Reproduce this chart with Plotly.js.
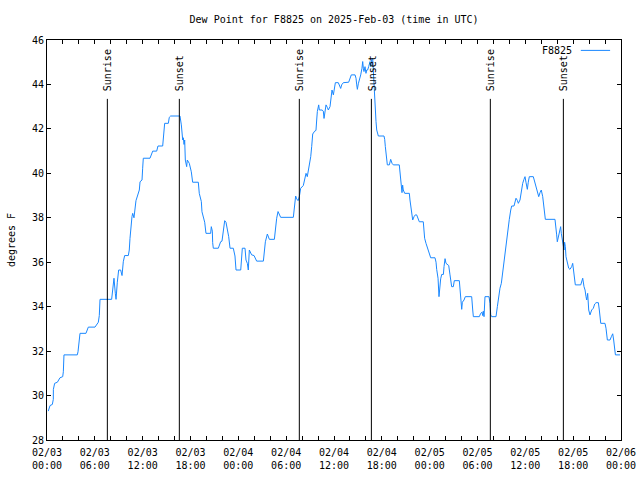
<!DOCTYPE html>
<html>
<head>
<meta charset="utf-8">
<script src="https://cdn.plot.ly/plotly-3.0.1.min.js"></script>
<style>html,body{margin:0;padding:0;background:#fff;}#chart{width:640px;height:480px;}</style>
</head>
<body>
<div id="chart"></div>
<script>
// Hours after 2025-02-03 00:00 UTC
const hoursUTC = [
  0.16,0.38,0.67,0.79,0.80,0.96,1.30,1.63,1.97,2.05,
  2.13,3.80,3.89,4.05,4.14,4.89,5.06,5.18,6.02,6.23,
  6.44,6.56,6.65,8.11,8.24,8.40,8.57,8.66,8.82,8.99,
  9.24,9.41,9.57,9.74,10.20,10.32,10.41,10.49,10.66,10.75,
  10.91,11.16,11.33,11.58,11.67,11.92,12.00,12.08,12.92,13.09,
  13.26,13.76,13.92,14.51,14.59,14.76,15.22,15.34,15.51,16.68,
  16.85,17.02,17.10,17.19,17.27,17.35,17.52,17.60,17.85,18.10,
  18.27,18.98,19.10,19.36,19.44,19.61,19.78,19.94,20.53,20.61,
  20.74,20.78,20.86,21.49,21.62,21.78,21.95,22.12,22.29,22.45,
  22.62,22.79,22.96,23.37,23.58,23.71,24.30,24.42,24.50,24.84,
  24.96,25.13,25.25,25.38,25.55,25.67,25.97,26.22,26.30,27.14,
  27.22,27.39,27.64,27.89,28.52,28.64,28.81,28.98,29.14,29.31,
  30.90,31.02,31.19,31.32,31.49,31.65,31.82,32.15,32.36,32.49,
  32.65,32.82,32.90,33.08,33.20,33.33,33.58,33.74,33.83,33.91,
  34.08,34.16,34.50,34.66,34.75,34.87,35.00,35.16,35.29,35.50,
  35.63,35.75,35.92,36.04,36.17,36.54,36.67,36.84,36.96,37.17,
  37.84,38.01,38.17,38.64,38.76,38.85,38.93,39.05,39.18,39.35,
  39.51,39.60,39.68,39.76,39.89,40.01,40.10,40.22,40.35,40.52,
  40.60,40.73,40.85,40.93,41.02,41.14,41.27,41.36,41.56,42.27,
  42.36,42.44,42.61,42.69,42.94,43.11,43.28,43.44,44.19,44.28,
  44.45,44.53,44.61,44.69,44.87,45.45,45.53,45.70,45.87,46.04,
  46.20,46.37,46.54,46.70,47.20,47.37,47.54,47.79,47.96,48.13,
  48.67,48.80,48.88,49.05,49.17,49.30,49.38,49.51,49.72,49.80,
  49.93,50.05,50.22,50.39,50.55,50.76,50.97,51.09,51.72,51.81,
  51.89,52.02,52.10,52.31,52.47,53.27,53.40,53.48,54.23,54.40,
  54.57,54.65,54.73,54.82,54.94,55.44,55.57,55.66,55.78,56.32,
  56.49,56.66,56.82,56.99,57.16,57.32,57.49,57.66,57.83,57.99,
  58.17,58.29,58.58,58.71,58.83,59.00,59.12,59.33,59.46,59.54,
  59.67,59.83,59.96,60.08,60.25,60.37,60.50,61.00,61.18,61.34,
  61.50,61.68,61.84,62.00,62.18,62.26,62.43,62.51,63.72,63.85,
  63.93,64.01,64.14,64.26,64.43,64.51,64.68,64.85,64.93,65.02,
  65.10,65.27,65.44,65.60,65.81,65.94,66.11,66.27,66.95,67.11,
  67.20,67.36,67.49,67.61,67.70,67.82,67.95,68.11,68.32,68.53,
  68.70,68.87,69.16,69.28,69.46,69.99,70.12,70.29,70.62,70.79,
  70.96,71.08,71.21,71.30,71.88
];

const dewPointF = [
  29.3,29.55,29.6,29.83,30.28,30.55,30.6,30.8,30.85,31.07,
  31.83,31.83,31.97,32.5,32.8,32.8,32.95,33.08,33.08,33.2,
  33.3,33.6,34.33,34.33,34.9,35.28,34.6,34.33,35.1,35.65,
  35.65,35.4,36.02,36.3,36.3,36.55,37.07,37.52,38.05,38.2,
  38.0,38.77,39.0,39.25,39.62,39.7,40.23,40.68,40.68,40.83,
  41.0,41.0,41.23,41.23,41.5,42.25,42.25,42.52,42.58,42.58,
  42.18,41.5,41.6,41.3,41.5,40.6,40.3,40.6,40.45,40.07,
  39.6,39.6,39.1,38.73,38.27,38.05,37.8,37.3,37.3,37.6,
  37.4,36.88,36.63,36.63,36.8,36.92,36.95,37.52,37.87,37.8,
  37.5,37.15,36.63,36.63,36.28,35.65,35.65,36.25,36.63,36.63,
  36.1,35.95,35.65,36.55,36.45,36.33,36.3,36.1,36.05,36.05,
  36.47,36.92,37.27,37.03,37.03,37.6,37.98,38.28,38.15,38.02,
  38.02,38.58,38.98,38.85,38.77,38.95,39.33,39.45,39.85,40.0,
  39.85,40.18,40.48,40.75,41.2,41.77,41.9,41.93,42.4,42.78,
  43.08,42.85,42.85,42.8,42.47,42.82,43.08,42.97,42.85,43.0,
  43.45,43.75,43.53,43.75,44.08,44.08,43.98,43.82,43.98,44.08,
  44.1,44.25,44.43,44.43,44.28,43.98,43.78,44.03,44.18,44.43,
  44.73,45.03,44.73,44.58,44.8,44.5,44.65,44.65,44.8,45.03,
  44.8,45.13,45.18,44.65,43.45,42.7,42.33,41.95,41.68,41.68,
  41.53,41.2,40.6,40.38,40.38,40.63,40.45,40.38,40.38,40.08,
  39.4,39.13,39.47,39.25,39.1,39.1,38.8,38.35,37.9,38.05,
  38.13,38.13,37.98,37.82,37.82,37.08,36.85,36.55,36.45,36.2,
  36.2,36.0,35.68,35.28,34.45,35.1,35.25,35.45,35.45,35.8,
  36.16,35.95,35.88,35.85,35.43,34.9,34.9,35.17,35.17,34.8,
  34.3,33.88,34.2,34.3,34.45,34.45,33.85,33.55,33.55,33.7,
  33.75,33.6,33.8,33.55,34.45,34.45,34.15,33.63,33.55,33.55,
  34.0,34.53,34.83,35.05,35.57,35.95,36.47,37.0,37.37,37.93,
  38.35,38.53,38.53,38.8,38.88,38.78,38.65,38.8,39.1,39.4,
  39.55,39.73,39.85,39.6,39.28,39.6,39.85,39.85,39.63,39.4,
  39.18,38.95,39.13,39.25,38.95,38.65,38.2,37.93,37.93,37.6,
  37.23,36.92,37.15,37.45,37.6,37.3,36.85,36.55,36.9,36.7,
  36.25,35.95,35.73,35.68,35.8,35.95,35.28,34.98,34.98,35.23,
  35.28,34.9,34.75,34.45,34.3,34.6,33.85,33.63,33.85,33.93,
  34.12,34.18,34.18,33.85,33.25,33.25,33.03,32.5,32.5,32.65,
  32.78,32.5,32.05,31.83,31.83
];

const sunEventHours  = [7.57, 16.60, 31.65, 40.69, 55.61, 64.77];
const sunEventLabels = ["Sunrise", "Sunset", "Sunrise", "Sunset", "Sunrise", "Sunset"];

const stationName = "F8825";
const chartTitle = "Dew Point for F8825 on 2025-Feb-03 (time in UTC)";
const yAxisTitle = "degrees F";

const startMs = Date.UTC(2025, 1, 3, 0, 0, 0);
function toDateStr(h) {
  const d = new Date(startMs + h * 3600000);
  return d.toISOString().slice(0, 19).replace('T', ' ');
}

const FONT = "DejaVu Sans Mono, monospace";
const x = hoursUTC.map(toDateStr);

const trace = {
  x: x, y: dewPointF, type: 'scatter', mode: 'lines', name: stationName,
  line: {color: '#1a88ff', width: 1}, showlegend: false, hoverinfo: 'skip'
};

const LINE_TOP = 43.35;
const LABEL_BASE = 43.62;
const shapes = sunEventHours.map(h => ({
  type: 'line', xref: 'x', yref: 'y', x0: toDateStr(h), x1: toDateStr(h), y0: 28, y1: LINE_TOP,
  line: {color: '#000', width: 1}
}));
const annotations = sunEventHours.map((h, i) => ({
  xref: 'x', yref: 'y', x: toDateStr(h), y: LABEL_BASE, text: sunEventLabels[i],
  textangle: -90, showarrow: false, xanchor: 'center', yanchor: 'bottom',
  font: {family: FONT, size: 10, color: '#000'}, xshift: 1
}));
// gnuplot-style key: text followed by line sample
annotations.push({
  xref: 'paper', yref: 'paper', x: 0.918, y: 0.974, text: stationName, showarrow: false,
  xanchor: 'right', yanchor: 'middle', font: {family: FONT, size: 10, color: '#000'}
});
shapes.push({
  type: 'line', xref: 'paper', yref: 'paper', x0: 0.930, x1: 0.981, y0: 0.974, y1: 0.974,
  line: {color: '#1a88ff', width: 1}
});

const layout = {
  width: 640, height: 480,
  margin: {l: 47, r: 19, t: 40, b: 40, pad: 0},
  paper_bgcolor: '#fff', plot_bgcolor: '#fff',
  font: {family: FONT, size: 10, color: '#000'},
  title: {text: chartTitle, x: 0.522, xanchor: 'center', y: 0.96, yanchor: 'middle',
          font: {family: FONT, size: 10, color: '#000'}},
  showlegend: false,
  xaxis: {
    type: 'date',
    range: [toDateStr(0), toDateStr(72)],
    tick0: toDateStr(0), dtick: 6 * 3600000,
    tickformat: '%m/%d<br>%H:%M',
    ticks: 'inside', ticklen: 4, tickcolor: '#000', tickwidth: 1,
    ticklabelstandoff: 3,
    minor: {dtick: 2 * 3600000, ticks: 'inside', ticklen: 4, tickcolor: '#000', tickwidth: 1, showgrid: false},
    showline: true, linecolor: '#000', linewidth: 1, mirror: 'ticks',
    showgrid: false, zeroline: false,
    tickfont: {family: FONT, size: 10, color: '#000'}
  },
  yaxis: {
    range: [28, 46], dtick: 2, tick0: 28,
    ticks: 'inside', ticklen: 4, tickcolor: '#000', tickwidth: 1,
    showline: true, linecolor: '#000', linewidth: 1, mirror: 'ticks',
    showgrid: false, zeroline: false,
    tickfont: {family: FONT, size: 10, color: '#000'},
    title: {text: yAxisTitle, font: {family: FONT, size: 10, color: '#000'}, standoff: 14}
  },
  shapes: shapes,
  annotations: annotations
};

Plotly.newPlot('chart', [trace], layout, {staticPlot: true, displayModeBar: false});
</script>
</body>
</html>
